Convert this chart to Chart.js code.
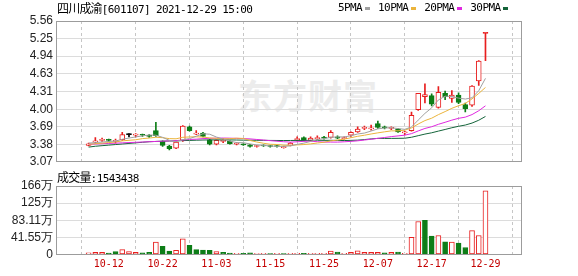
<!DOCTYPE html>
<html>
<head>
<meta charset="utf-8">
<script src="https://cdn.jsdelivr.net/npm/chart.js@4/dist/chart.umd.min.js"></script>
<style>
  html, body { margin: 0; padding: 0; background: #fff; }
  #wrap { position: relative; width: 578px; height: 276px; overflow: hidden; }
  canvas { position: absolute; left: 0; }
  #price { top: 0; }
  #vol { top: 172px; }
  .txt { position: absolute; font-size: 11px; letter-spacing: -0.6px; font-family: 'DejaVu Sans Mono', monospace; color: #000; white-space: nowrap; line-height: 12px; }
  .cjk { font-family: 'Noto Sans CJK SC'; font-size: 12px; letter-spacing: -0.8px; }
  #wm { position: absolute; left: 238px; top: 70px; font: bold 34px 'Noto Sans CJK SC'; color: #ececec; letter-spacing: 1px; }
  #legend { position: absolute; left: 338px; top: 2px; display: flex; align-items: center; }
  #legend span.sw { display: inline-block; width: 5px; height: 3px; margin: 0 8px 0 3px; }
</style>
</head>
<body>
<div id="wrap">
  <div id="wm">东方财富</div>
  <canvas id="price" width="578" height="172"></canvas>
  <canvas id="vol" width="578" height="104"></canvas>
  <div class="txt" style="left:57px;top:2px"><span class="cjk">四川成渝</span>[601107] 2021-12-29 15:00</div>
  <div id="legend" class="txt" style="position:absolute"></div>
  <div class="txt" style="left:57px;top:171px"><span class="cjk">成交量</span>:1543438</div>
</div>
<script>
// trading days
const dates = ['09-30','10-08','10-11','10-12','10-13','10-14','10-15','10-18','10-19','10-20',
  '10-21','10-22','10-25','10-26','10-27','10-28','10-29','11-01','11-02','11-03',
  '11-04','11-05','11-08','11-09','11-10','11-11','11-12','11-15','11-16','11-17',
  '11-18','11-19','11-22','11-23','11-24','11-25','11-26','11-29','11-30','12-01',
  '12-02','12-03','12-06','12-07','12-08','12-09','12-10','12-13','12-14','12-15',
  '12-16','12-17','12-20','12-21','12-22','12-23','12-24','12-27','12-28','12-29'];
const tickDates = ['10-12','10-22','11-03','11-15','11-25','12-07','12-17','12-29'];

const opens = [3.36,3.42,3.45,3.46,3.43,3.46,3.55,3.54,3.55,3.54,
  3.62,3.43,3.35,3.31,3.45,3.69,3.56,3.58,3.46,3.38,
  3.43,3.43,3.38,3.38,3.37,3.34,3.36,3.35,3.35,3.32,
  3.36,3.46,3.50,3.45,3.48,3.50,3.50,3.51,3.48,3.54,
  3.60,3.66,3.65,3.745,3.68,3.66,3.65,3.58,3.62,3.99,
  4.22,4.24,4.03,4.28,4.19,4.25,4.08,4.07,4.50,5.34];
const highs = [3.40,3.50,3.49,3.47,3.47,3.59,3.57,3.57,3.56,3.55,
  3.77,3.44,3.36,3.43,3.71,3.70,3.62,3.59,3.47,3.46,
  3.48,3.44,3.41,3.39,3.38,3.36,3.37,3.36,3.36,3.35,
  3.41,3.51,3.51,3.51,3.53,3.52,3.62,3.53,3.51,3.60,
  3.69,3.70,3.72,3.79,3.70,3.69,3.66,3.61,3.95,4.28,
  4.45,4.27,4.40,4.32,4.33,4.29,4.11,4.42,4.86,5.34];
const lows = [3.35,3.40,3.43,3.43,3.40,3.45,3.51,3.51,3.52,3.50,
  3.52,3.34,3.28,3.30,3.43,3.61,3.55,3.51,3.37,3.37,
  3.41,3.38,3.37,3.36,3.33,3.33,3.34,3.33,3.33,3.31,
  3.35,3.44,3.44,3.44,3.46,3.47,3.49,3.48,3.47,3.52,
  3.59,3.64,3.63,3.66,3.65,3.64,3.59,3.55,3.61,3.98,
  4.11,4.06,4.02,4.17,4.12,4.10,3.95,4.05,4.42,4.86];
const closes = [3.39,3.44,3.46,3.45,3.44,3.55,3.55,3.56,3.54,3.52,
  3.53,3.36,3.30,3.42,3.70,3.62,3.57,3.52,3.38,3.45,
  3.44,3.39,3.39,3.37,3.34,3.35,3.35,3.34,3.34,3.33,
  3.40,3.48,3.45,3.49,3.49,3.49,3.59,3.49,3.49,3.59,
  3.65,3.67,3.67,3.68,3.67,3.67,3.60,3.60,3.89,4.28,
  4.26,4.09,4.30,4.22,4.25,4.12,4.01,4.41,4.85,5.34];
// volume, in 万
const volumes = [4,5,5,3.5,7,12,7,5,4,5,
  30,20,8,10,38,22,12,10.5,10,7,
  5,3.5,3,3,4,2.5,3,2.5,3,2.5,
  3,3,3,3,3,3,8,6,3,5,
  9,5,5,5,4,5,6,3,41.5,80,
  83,45,46,31,30,28,17,58,46,154.34];

const ma5 = [3.40,3.41,3.42,3.43,3.436,3.468,3.49,3.51,3.528,3.544,
  3.54,3.502,3.45,3.426,3.462,3.48,3.522,3.566,3.558,3.508,
  3.472,3.436,3.41,3.408,3.386,3.368,3.36,3.35,3.344,3.342,
  3.352,3.378,3.40,3.43,3.462,3.48,3.502,3.51,3.51,3.53,
  3.562,3.578,3.614,3.652,3.668,3.672,3.658,3.644,3.686,3.808,
  3.926,4.024,4.164,4.23,4.224,4.196,4.18,4.202,4.328,4.546];
const ma10 = [3.38,3.39,3.40,3.41,3.42,3.44,3.45,3.46,3.48,3.49,
  3.504,3.496,3.48,3.477,3.503,3.51,3.512,3.508,3.492,3.485,
  3.476,3.479,3.488,3.483,3.447,3.42,3.398,3.38,3.376,3.364,
  3.36,3.369,3.375,3.387,3.402,3.416,3.44,3.455,3.47,3.496,
  3.521,3.54,3.562,3.582,3.60,3.617,3.618,3.629,3.669,3.738,
  3.799,3.841,3.904,3.958,4.016,4.061,4.102,4.183,4.279,4.385];
const ma20 = [3.38,3.385,3.39,3.395,3.40,3.405,3.41,3.415,3.42,3.425,
  3.43,3.435,3.44,3.445,3.455,3.465,3.47,3.48,3.485,3.488,
  3.49,3.488,3.484,3.48,3.475,3.465,3.455,3.444,3.434,3.425,
  3.418,3.424,3.432,3.435,3.425,3.418,3.419,3.418,3.424,3.431,
  3.441,3.455,3.469,3.485,3.50,3.516,3.528,3.541,3.568,3.616,
  3.66,3.69,3.733,3.769,3.807,3.839,3.86,3.905,3.973,4.06];
const ma30 = [3.33,3.345,3.355,3.365,3.375,3.385,3.395,3.405,3.415,3.425,
  3.43,3.435,3.438,3.44,3.445,3.448,3.452,3.455,3.457,3.458,
  3.458,3.457,3.455,3.453,3.452,3.45,3.449,3.448,3.447,3.446,
  3.447,3.448,3.448,3.449,3.451,3.449,3.45,3.448,3.446,3.449,
  3.453,3.463,3.475,3.484,3.483,3.484,3.485,3.487,3.504,3.532,
  3.56,3.583,3.613,3.642,3.672,3.698,3.72,3.755,3.805,3.872];

const priceTickValues = [3.07,3.38,3.69,4.00,4.31,4.63,4.94,5.25,5.56];
const priceTickLabels = ['3.07','3.38','3.69','4.00','4.31','4.63','4.94','5.25','5.56'];
const volTickValues = [0,41.555,83.11,124.665,166.22];
const volTickLabels = ['0','41.55万','83.11万','125万','166万'];

const legendLabels = ['5PMA','10PMA','20PMA','30PMA'];
const maColors = ['#a0a0a0','#ebb43c','#e028e0','#14643a'];

const RED = '#e81e1e', GREEN = '#0d7d17', DOJI = '#000';
const tickIdx = tickDates.map(d => dates.indexOf(d));

// legend
const lg = document.getElementById('legend');
legendLabels.forEach((t, i) => {
  const s = document.createElement('span'); s.textContent = t; lg.appendChild(s);
  const w = document.createElement('span'); w.className = 'sw'; w.style.background = maColors[i]; lg.appendChild(w);
});

// up/down against the previous close
const volUp = closes.map((c, i) => i === 0 || c >= closes[i - 1]);
const candleColor = closes.map((c, i) => {
  if (c > opens[i]) return RED;
  if (c < opens[i]) return GREEN;
  if (i > 0 && c > closes[i - 1]) return RED;
  if (i > 0 && c < closes[i - 1]) return GREEN;
  return DOJI;
});
const bodyFill = closes.map((c, i) => c > opens[i] ? '#fff' : candleColor[i]);

const frame = {
  id: 'frame',
  beforeDatasetsDraw(chart) {
    const { ctx, chartArea: a } = chart;
    ctx.save();
    ctx.strokeStyle = '#9c9c9c';
    ctx.lineWidth = 1;
    ctx.strokeRect(Math.round(a.left) + 0.5, Math.round(a.top) + 0.5, Math.round(a.right - a.left) - 1, Math.round(a.bottom - a.top) - 1);
    ctx.restore();
  }
};

function xAxis(showLabels) {
  return {
    type: 'linear', min: -0.52, max: 60.1,
    afterBuildTicks: s => { s.ticks = tickIdx.map(v => ({ value: v })); },
    grid: { color: '#c6c6c6', lineWidth: 1, drawTicks: false },
    border: { display: false, dash: [3, 3] },
    ticks: {
      display: showLabels, autoSkip: false, maxRotation: 0, padding: 4,
      color: '#c40000', font: { family: 'DejaVu Sans Mono', size: 10 },
      callback: v => dates[v]
    },
    afterFit: s => { s.height = showLabels ? 21.5 : 0; }
  };
}

function yAxis(min, max, values, labels) {
  return {
    min, max,
    afterBuildTicks: s => { s.ticks = values.map(v => ({ value: v })); },
    ticks: { autoSkip: false, callback: (v, i) => labels[i], color: '#222', padding: 3, font: { family: 'Liberation Sans', size: 12 } },
    grid: { color: '#dcdcdc', drawTicks: false },
    border: { display: false },
    afterFit: s => { s.width = 56; }
  };
}

const common = {
  responsive: false, animation: false, devicePixelRatio: 1,
  plugins: { legend: { display: false }, tooltip: { enabled: false } }
};

new Chart(document.getElementById('price'), {
  type: 'bar',
  data: {
    datasets: [
      ...[ma5, ma10, ma20, ma30].map((m, k) => ({
        type: 'line', order: -1,
        data: m.map((v, i) => ({ x: i, y: v })),
        borderColor: maColors[k], borderWidth: 1, pointRadius: 0, tension: 0
      })),
      {
        order: 0, grouped: false,
        data: opens.map((o, i) => ({ x: i, y: [o, closes[i]] })),
        backgroundColor: bodyFill, borderColor: candleColor,
        borderWidth: 1, borderSkipped: false, barThickness: 5, minBarLength: 1
      },
      {
        order: 1, grouped: false,
        data: lows.map((l, i) => ({ x: i, y: [l, highs[i]] })),
        backgroundColor: candleColor, borderWidth: 0, barThickness: 1
      }
    ]
  },
  options: {
    ...common,
    layout: { padding: { left: 0, right: 56, top: 21, bottom: 7 } },
    scales: {
      x: xAxis(false),
      y: yAxis(3.07, 5.56, priceTickValues, priceTickLabels)
    }
  },
  plugins: [frame]
});

new Chart(document.getElementById('vol'), {
  type: 'bar',
  data: {
    datasets: [{
      grouped: false,
      data: volumes.map((v, i) => ({ x: i, y: v })),
      backgroundColor: volUp.map(u => u ? '#fff' : GREEN),
      borderColor: volUp.map(u => u ? RED : GREEN),
      borderWidth: 1, borderSkipped: false, barThickness: 5
    }]
  },
  options: {
    ...common,
    layout: { padding: { left: 0, right: 56, top: 14, bottom: 0 } },
    scales: {
      x: xAxis(true),
      y: yAxis(0, 166.22, volTickValues, volTickLabels)
    }
  },
  plugins: [frame]
});
</script>
</body>
</html>
